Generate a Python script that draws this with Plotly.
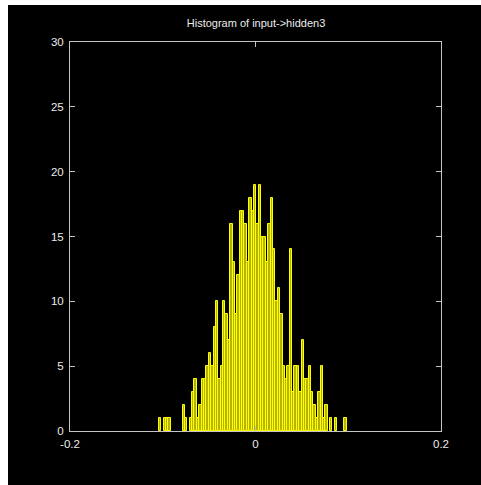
import plotly.graph_objects as go

# Histogram counts of the input->hidden3 weights, left to right
counts = [1, 0, 1, 1, 1, 0, 0, 0, 0, 0, 2, 1, 0, 1, 3, 4, 1, 2, 4, 4,
          5, 6, 5, 8, 10, 4, 5, 10, 9, 7, 16, 13, 9, 12, 17, 17, 16, 13, 18, 17,
          19, 16, 19, 15, 15, 13, 16, 18, 14, 10, 11, 9, 5, 4, 5, 14, 3, 5, 5, 3,
          7, 4, 4, 5, 3, 2, 1, 3, 5, 1, 2, 0, 1, 0, 1, 0, 0, 0, 1]
bin_lo = -0.1043   # left edge of first bin
bin_hi = 0.0984    # right edge of last bin

x_ticks = [-0.2, 0, 0.2]
x_tick_text = ["-0.2", "0", "0.2"]
y_ticks = [0, 5, 10, 15, 20, 25, 30]

title_text = "Histogram of input->hidden3"

nb = len(counts)
bw = (bin_hi - bin_lo) / nb
centers = [bin_lo + bw * (i + 0.5) for i in range(nb)]
xs = [c for c, n in zip(centers, counts) if n > 0]
ys = [n for n in counts if n > 0]

W, H = 481, 485
ML, MR, MT, MB = 70, 40, 42, 54
PW, PH = W - ML - MR, H - MT - MB

def px_x(p):
    return (p - ML) / PW

def px_y(p):
    return (H - MB - p) / PH

axis_col = "#c4c4c4"
text_col = "#ececec"
font_fam = "Liberation Sans Narrow, Liberation Sans, Arial, sans-serif"

fig = go.Figure()
fig.add_trace(go.Bar(
    x=xs, y=ys, width=bw,
    marker=dict(color="#b4b400", line=dict(color="#ffff00", width=1)),
    hoverinfo="x+y",
))

fig.update_layout(
    width=W, height=H,
    margin=dict(l=ML, r=MR, t=MT, b=MB, pad=0),
    paper_bgcolor="#000000",
    plot_bgcolor="#000000",
    showlegend=False,
    bargap=0,
    font=dict(family=font_fam, size=11.5, color=text_col),
    title=dict(text=title_text, x=256 / W, xanchor="center",
               y=1 - 23 / H, yanchor="middle",
               font=dict(family=font_fam, size=11, color=text_col)),
    xaxis=dict(range=[-0.2, 0.2], tickvals=x_ticks, ticktext=x_tick_text,
               showgrid=False, zeroline=False,
               showline=True, linecolor=axis_col, linewidth=1, mirror="ticks",
               ticks="inside", ticklen=5, tickcolor=axis_col, tickwidth=1,
               ticklabelstandoff=2),
    yaxis=dict(range=[0, 30], tickvals=y_ticks,
               showgrid=False, zeroline=False,
               showline=True, linecolor=axis_col, linewidth=1, mirror="ticks",
               ticks="inside", ticklen=5, tickcolor=axis_col, tickwidth=1,
               ticklabelstandoff=3),
    shapes=[
        # white strips along the left and top border of the page
        dict(type="rect", xref="paper", yref="paper", layer="above",
             x0=px_x(0), x1=px_x(8), y0=px_y(H), y1=px_y(0),
             fillcolor="#ffffff", line=dict(width=0)),
        dict(type="rect", xref="paper", yref="paper", layer="above",
             x0=px_x(0), x1=px_x(W), y0=px_y(5), y1=px_y(0),
             fillcolor="#ffffff", line=dict(width=0)),
    ],
)

fig.write_html("out.html")
